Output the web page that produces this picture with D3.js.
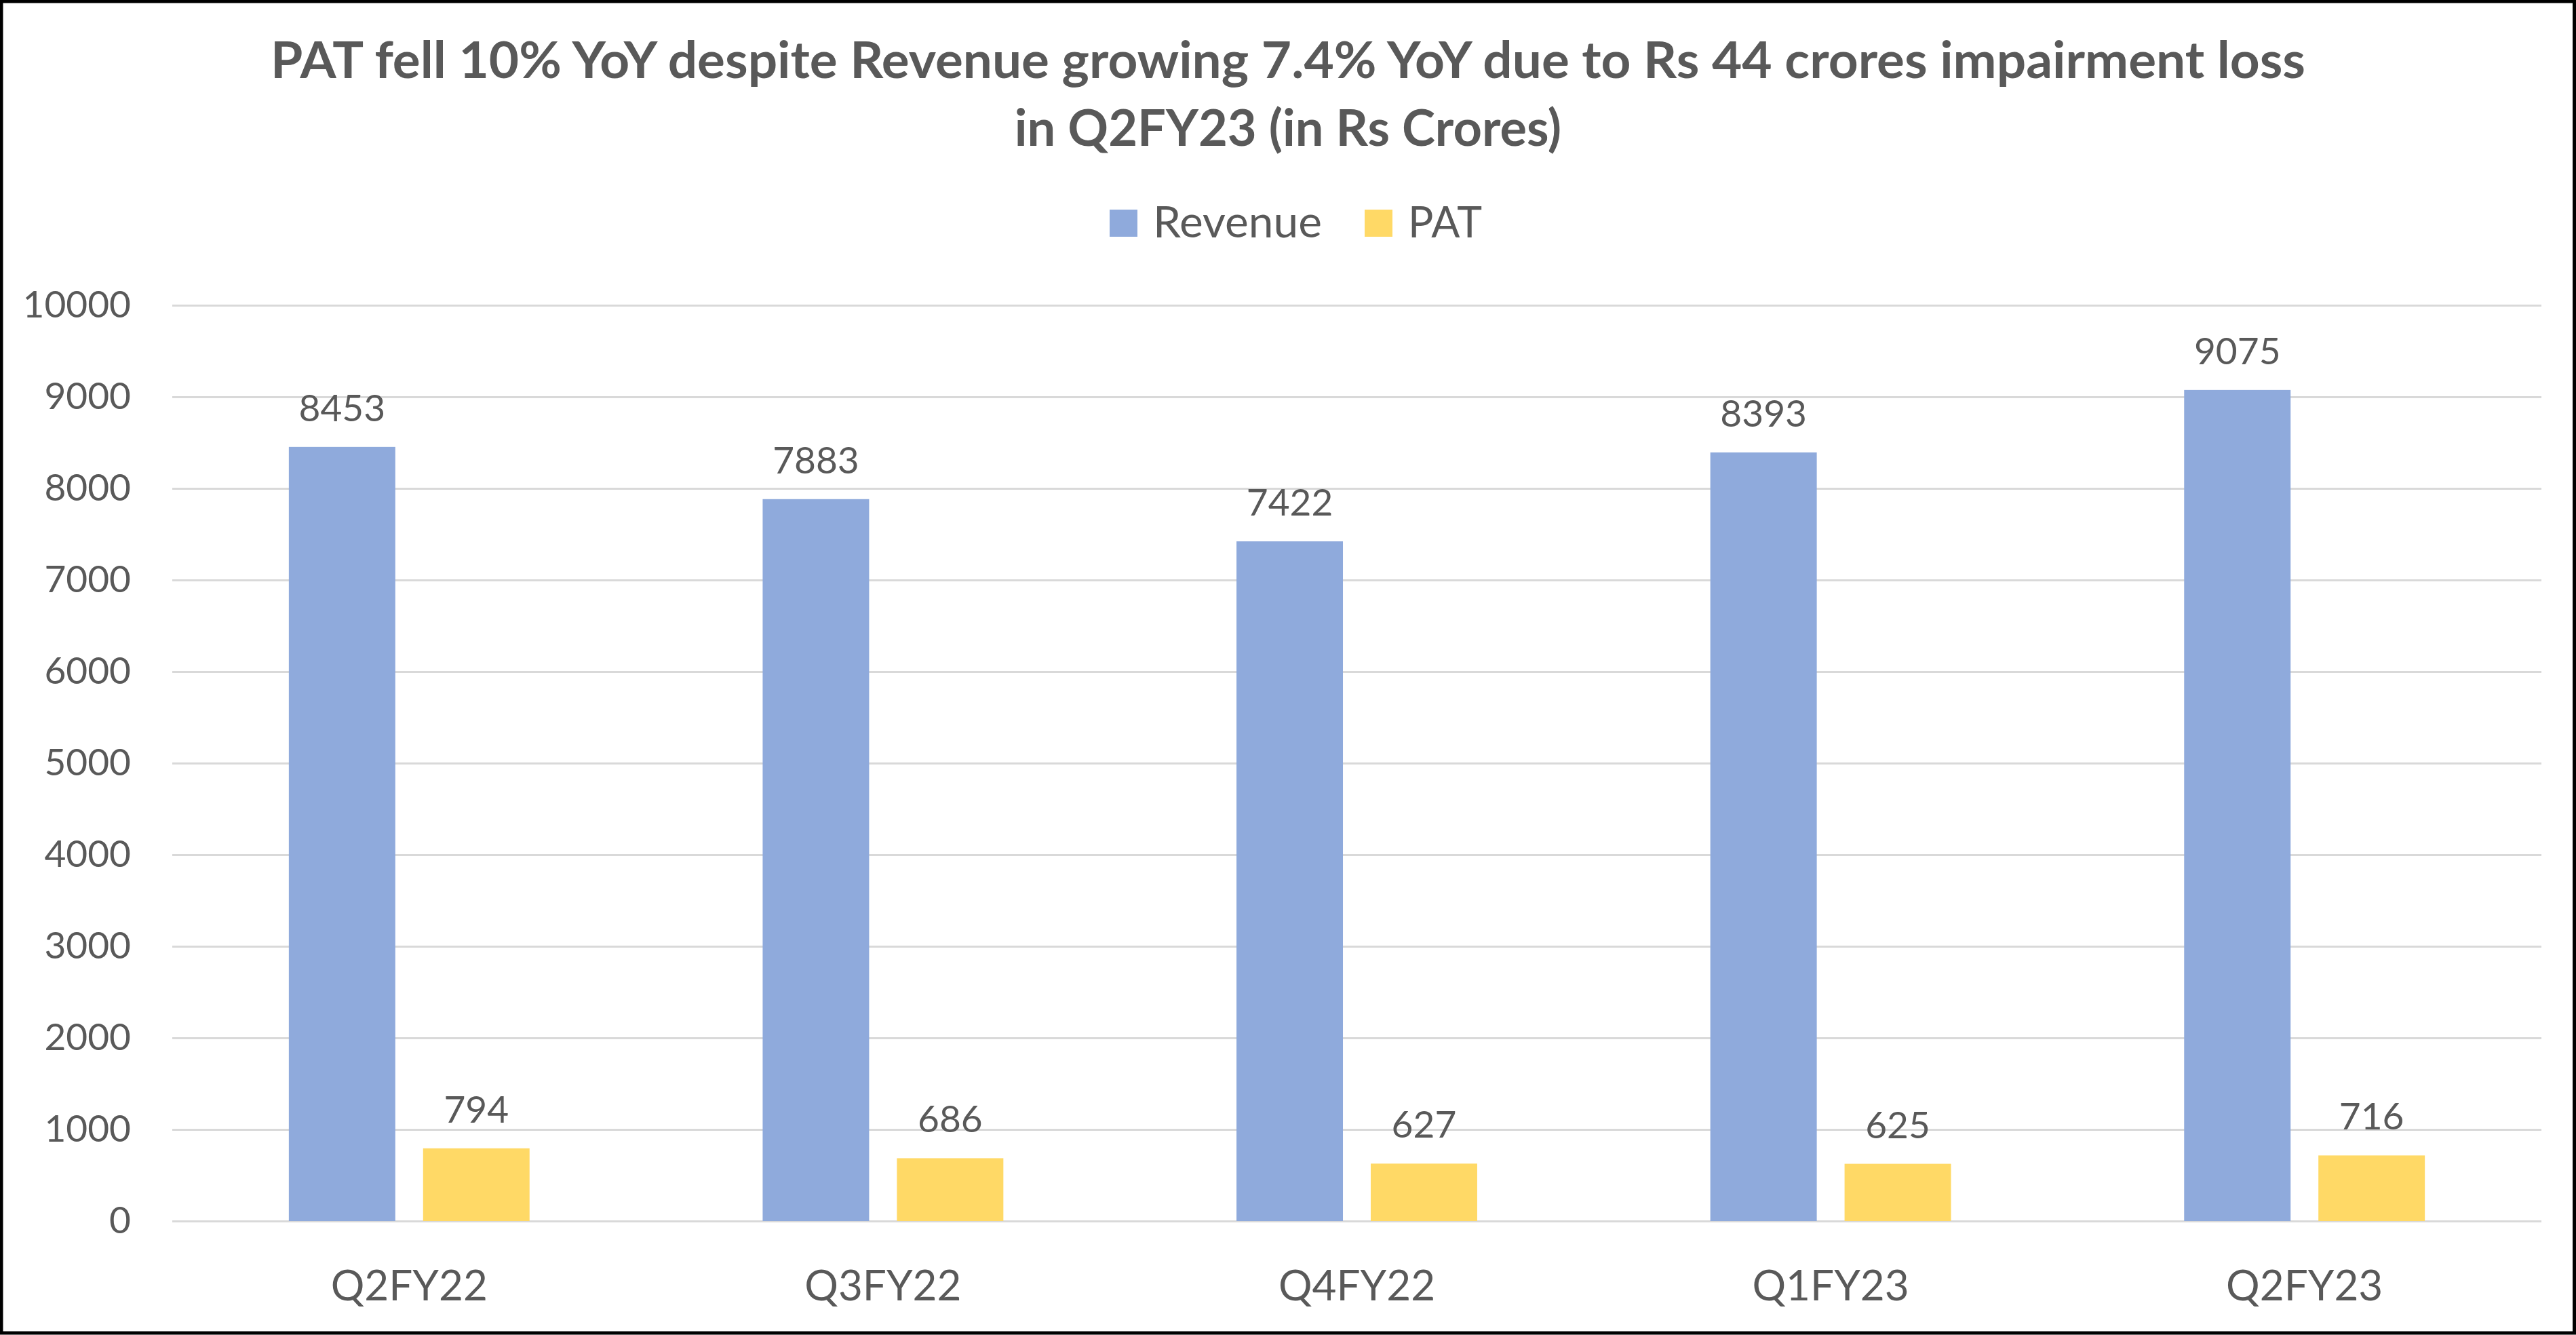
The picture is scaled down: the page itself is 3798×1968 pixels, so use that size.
<!DOCTYPE html>
<html><head><meta charset="utf-8">
<script src="https://cdn.jsdelivr.net/npm/d3@7"></script>
<style>html,body{margin:0;padding:0;background:#fff;}svg{display:block;}</style>
</head><body>
<script>
const categories = ["Q2FY22","Q3FY22","Q4FY22","Q1FY23","Q2FY23"];
const seriesNames = ["Revenue","PAT"];
const revenue = [8453,7883,7422,8393,9075];
const pat = [794,686,627,625,716];
const yTicks = [0,1000,2000,3000,4000,5000,6000,7000,8000,9000,10000];
const titleLines = ["PAT fell 10% YoY despite Revenue growing 7.4% YoY due to Rs 44 crores impairment loss","in Q2FY23 (in Rs Crores)"];
const colors = {Revenue:"#8FAADC", PAT:"#FFD966"};

const W = 3798, H = 1968;
const textColor = "#595959";
const font = "Lato, 'Open Sans', sans-serif";
const svg = d3.select("body").append("svg").attr("width",W).attr("height",H);
svg.append("rect").attr("x",0).attr("y",0).attr("width",W).attr("height",H).attr("fill","#fff");

const plot = {left:254, right:3747, top:450, bottom:1800};
const y = d3.scaleLinear().domain([0,10000]).range([plot.bottom, plot.top]);
const x0 = d3.scaleBand().domain(categories).range([plot.left, plot.right]).paddingInner(0.492).paddingOuter(0.246);
const x1 = d3.scaleBand().domain(seriesNames).range([0, x0.bandwidth()]).paddingInner(0.207);

// gridlines
const yAxis = d3.axisLeft(y).tickValues(yTicks).tickSize(-(plot.right-plot.left)).tickPadding(61).tickFormat(d3.format("d"));
const ga = svg.append("g").attr("transform",`translate(${plot.left},0)`).call(yAxis);
ga.select(".domain").remove();
ga.selectAll(".tick line").attr("stroke","#D9D9D9").attr("stroke-width",3);
ga.selectAll(".tick text").attr("fill",textColor).attr("font-family",font).attr("font-size",55);

// x axis labels
const xAxis = d3.axisBottom(x0).tickSize(0).tickPadding(0);
const gx = svg.append("g").attr("transform",`translate(0,${plot.bottom})`).call(xAxis);
gx.select(".domain").remove();
gx.selectAll(".tick text").attr("fill",textColor).attr("font-family",font).attr("font-size",62).attr("dy",null).attr("y",117);

const data = categories.map((c,i)=>({cat:c, vals:[{k:"Revenue",v:revenue[i]},{k:"PAT",v:pat[i]}]}));
const groups = svg.append("g").selectAll("g").data(data).join("g").attr("transform",d=>`translate(${x0(d.cat)},0)`);
groups.selectAll("rect").data(d=>d.vals).join("rect")
  .attr("x",d=>x1(d.k)).attr("width",x1.bandwidth())
  .attr("y",d=>y(d.v)).attr("height",d=>y(0)-y(d.v)).attr("fill",d=>colors[d.k]);
groups.selectAll("text.lbl").data(d=>d.vals).join("text").attr("class","lbl")
  .attr("x",d=>x1(d.k)+x1.bandwidth()/2).attr("y",d=>y(d.v)-38)
  .attr("text-anchor","middle").attr("fill",textColor).attr("font-family",font).attr("font-size",55)
  .text(d=>d.v);

// title
const titleY = [115, 215];
const titleW = [3000, 823];
titleLines.forEach((t,i)=>{
  const tx = svg.append("text").attr("x",W/2).attr("y",titleY[i]).attr("text-anchor","middle")
    .attr("fill",textColor).attr("font-family",font).attr("font-weight","bold").attr("font-size",74).text(t);
  const len = tx.node().getComputedTextLength();
  if (Math.abs(len-titleW[i])>20) tx.attr("textLength",titleW[i]).attr("lengthAdjust","spacingAndGlyphs");
});

// legend
const legendX = {Revenue:1636, PAT:2012};
const legendW = {Revenue:249, PAT:109};
seriesNames.forEach(s=>{
  svg.append("rect").attr("x",legendX[s]).attr("y",309).attr("width",41).attr("height",40).attr("fill",colors[s]);
  svg.append("text").attr("x",legendX[s]+64).attr("y",350).attr("fill",textColor).attr("font-family",font).attr("font-size",64)
    .attr("textLength",legendW[s]).attr("lengthAdjust","spacingAndGlyphs").text(s);
});

// frame
svg.append("rect").attr("x",2).attr("y",2).attr("width",W-4.5).attr("height",H-5).attr("fill","none").attr("stroke","#000").attr("stroke-width",5);
</script>
</body></html>
